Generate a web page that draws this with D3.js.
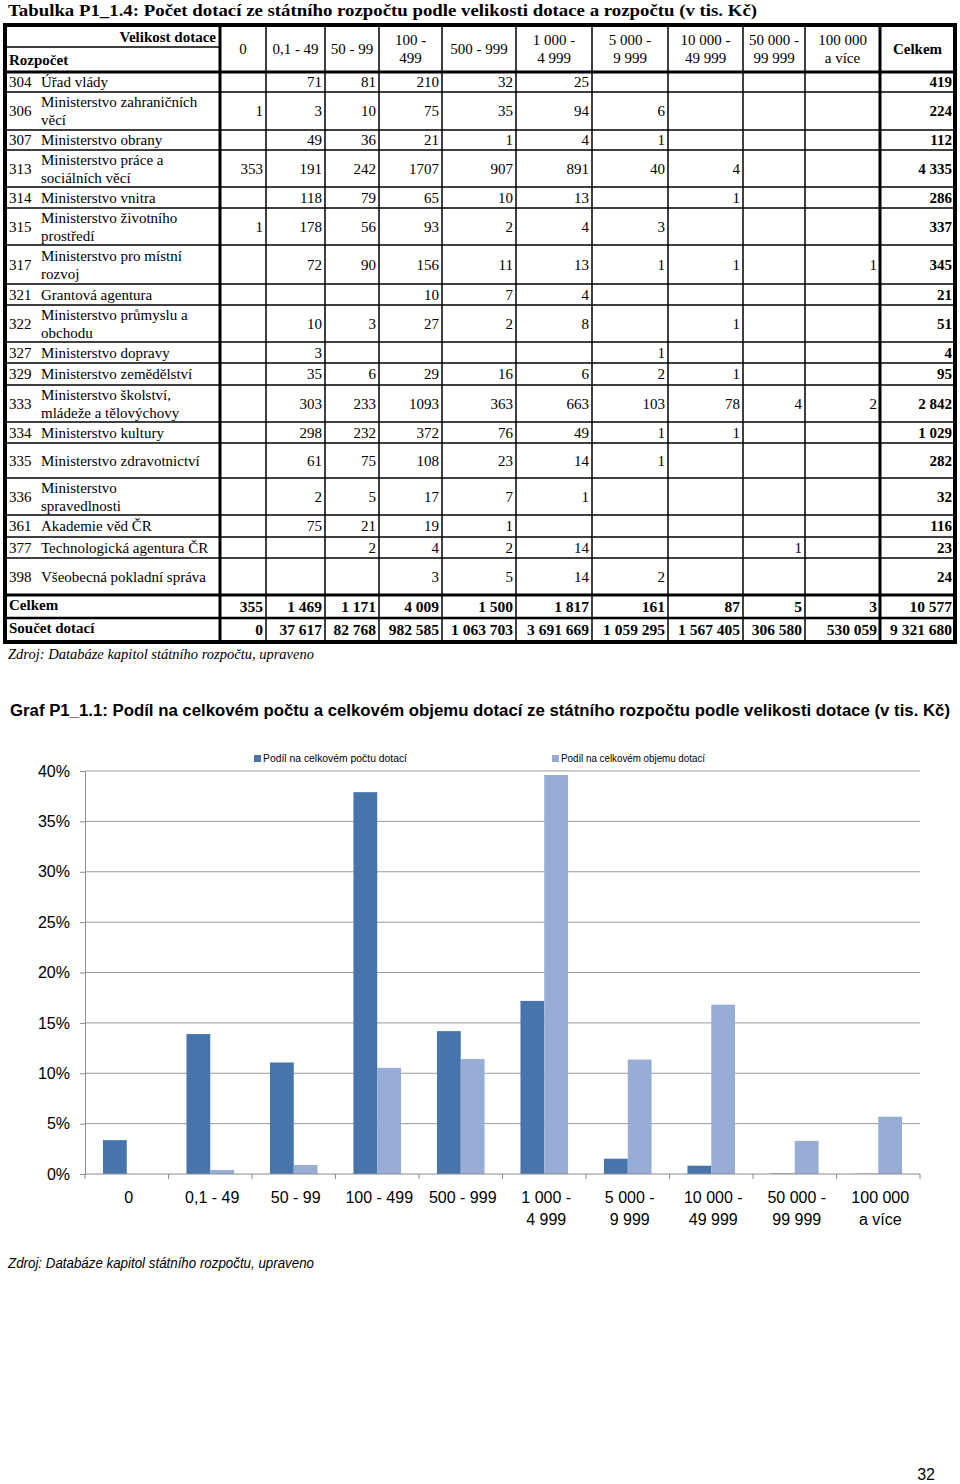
<!DOCTYPE html>
<html>
<head>
<meta charset="utf-8">
<script src="https://cdn.jsdelivr.net/npm/d3@7"></script>
<style>
  body { margin: 0; background: #fff; }
  svg { display: block; }
</style>
</head>
<body>
<div id="page"></div>
<script>
// ---- table data ----
var colHeads = [["0"], ["0,1 - 49"], ["50 - 99"], ["100 -", "499"], ["500 - 999"], ["1 000 -", "4 999"],
                ["5 000 -", "9 999"], ["10 000 -", "49 999"], ["50 000 -", "99 999"], ["100 000", "a více"]];

var rowCodes = ["304", "306", "307", "313", "314", "315", "317", "321", "322", "327", "329",
                "333", "334", "335", "336", "361", "377", "398"];

var rowNames = [["Úřad vlády"], ["Ministerstvo zahraničních", "věcí"], ["Ministerstvo obrany"],
                ["Ministerstvo práce a", "sociálních věcí"], ["Ministerstvo vnitra"],
                ["Ministerstvo životního", "prostředí"], ["Ministerstvo pro místní", "rozvoj"],
                ["Grantová agentura"], ["Ministerstvo průmyslu a", "obchodu"], ["Ministerstvo dopravy"],
                ["Ministerstvo zemědělství"], ["Ministerstvo školství,", "mládeže a tělovýchovy"],
                ["Ministerstvo kultury"], ["Ministerstvo zdravotnictví"], ["Ministerstvo", "spravedlnosti"],
                ["Akademie věd ČR"], ["Technologická agentura ČR"], ["Všeobecná pokladní správa"]];

var rowValues = [
  [null, 71, 81, 210, 32, 25, null, null, null, null],
  [1, 3, 10, 75, 35, 94, 6, null, null, null],
  [null, 49, 36, 21, 1, 4, 1, null, null, null],
  [353, 191, 242, 1707, 907, 891, 40, 4, null, null],
  [null, 118, 79, 65, 10, 13, null, 1, null, null],
  [1, 178, 56, 93, 2, 4, 3, null, null, null],
  [null, 72, 90, 156, 11, 13, 1, 1, null, 1],
  [null, null, null, 10, 7, 4, null, null, null, null],
  [null, 10, 3, 27, 2, 8, null, 1, null, null],
  [null, 3, null, null, null, null, 1, null, null, null],
  [null, 35, 6, 29, 16, 6, 2, 1, null, null],
  [null, 303, 233, 1093, 363, 663, 103, 78, 4, 2],
  [null, 298, 232, 372, 76, 49, 1, 1, null, null],
  [null, 61, 75, 108, 23, 14, 1, null, null, null],
  [null, 2, 5, 17, 7, 1, null, null, null, null],
  [null, 75, 21, 19, 1, null, null, null, null, null],
  [null, null, 2, 4, 2, 14, null, null, 1, null],
  [null, null, null, 3, 5, 14, 2, null, null, null]
];

var rowTotals = [419, 224, 112, 4335, 286, 337, 345, 21, 51, 4, 95, 2842, 1029, 282, 32, 116, 23, 24];

var countTotals = [355, 1469, 1171, 4009, 1500, 1817, 161, 87, 5, 3];
var countAll = 10577;
var sumTotals = [0, 37617, 82768, 982585, 1063703, 3691669, 1059295, 1567405, 306580, 530059];
var sumAll = 9321680;

// ---- chart data (in %) ----
var categories = [["0"], ["0,1 - 49"], ["50 - 99"], ["100 - 499"], ["500 - 999"], ["1 000 -", "4 999"],
                  ["5 000 -", "9 999"], ["10 000 -", "49 999"], ["50 000 -", "99 999"], ["100 000", "a více"]];
var seriesNames = ["Podíl na celkovém počtu dotací", "Podíl na celkovém objemu dotací"];
var shareCount = [3.36, 13.89, 11.07, 37.90, 14.18, 17.18, 1.52, 0.82, 0.05, 0.03];
var shareVolume = [0, 0.40, 0.89, 10.54, 11.41, 39.60, 11.36, 16.81, 3.29, 5.69];
var yTicks = [0, 5, 10, 15, 20, 25, 30, 35, 40];

var colors = ["#4674ab", "#98add5"];

var svg = d3.select("#page").append("svg")
    .attr("width", 960)
    .attr("height", 1484);

svg.append("rect").attr("width", 960).attr("height", 1484).attr("fill", "#fff");

var serif = "'Liberation Serif', 'DejaVu Serif', serif";
var sans = "'Liberation Sans', Arial, sans-serif";
var fs = "15px ";

var loc = d3.formatLocale({decimal: ",", thousands: "\u00a0", grouping: [3], currency: ["", ""]});
var fmtSpace = loc.format(",d");

// ---- table title ----
svg.append("text")
    .attr("x", 8).attr("y", 16)
    .attr("textLength", 749).attr("lengthAdjust", "spacingAndGlyphs")
    .style("font", "bold 17px " + serif)
    .text("Tabulka P1_1.4: Počet dotací ze státního rozpočtu podle velikosti dotace a rozpočtu (v tis. Kč)");

// ---- table layout ----
var colX = [5, 220, 266, 325, 379, 442, 516, 592, 668, 743, 805, 880, 955];
var rowHeights = [20, 38, 20, 37, 21, 37, 39, 21, 37, 21, 22, 37, 21, 35, 37, 22, 21, 37];
var tableTop = 25, headBottom = 72;

var rowY = [headBottom];
rowHeights.forEach(function(h, i) { rowY.push(rowY[i] + h); });
var celkemTop = rowY[rowY.length - 1];
var soucetTop = celkemTop + 23;
var tableBottom = soucetTop + 24;

var tbl = svg.append("g").attr("class", "table");

// header
tbl.append("text")
    .attr("x", 216).attr("y", 42).attr("text-anchor", "end")
    .style("font", "bold " + fs + serif)
    .text("Velikost dotace");
tbl.append("text")
    .attr("x", 9).attr("y", 65)
    .style("font", "bold " + fs + serif)
    .text("Rozpočet");

colHeads.forEach(function(lines, i) {
    var cx = (colX[i + 1] + colX[i + 2]) / 2;
    var cy = (tableTop + headBottom) / 2;
    lines.forEach(function(l, j) {
        tbl.append("text")
            .attr("x", cx)
            .attr("y", cy + 5 + (lines.length == 2 ? (j == 0 ? -9 : 9) : 0))
            .attr("text-anchor", "middle")
            .style("font", fs + serif)
            .text(l);
    });
});
tbl.append("text")
    .attr("x", (colX[11] + colX[12]) / 2).attr("y", (tableTop + headBottom) / 2 + 5)
    .attr("text-anchor", "middle")
    .style("font", "bold " + fs + serif)
    .text("Celkem");

// body rows
rowCodes.forEach(function(code, r) {
    var cy = (rowY[r] + rowY[r + 1]) / 2;
    tbl.append("text")
        .attr("x", 9).attr("y", cy + 5)
        .style("font", fs + serif)
        .text(code);
    var names = rowNames[r];
    names.forEach(function(n, j) {
        tbl.append("text")
            .attr("x", 41)
            .attr("y", cy + 5 + (names.length == 2 ? (j == 0 ? -9 : 9) : 0))
            .style("font", fs + serif)
            .text(n);
    });
    rowValues[r].forEach(function(v, c) {
        if (v == null) return;
        tbl.append("text")
            .attr("x", colX[c + 2] - 3).attr("y", cy + 5)
            .attr("text-anchor", "end")
            .style("font", fs + serif)
            .text(v);
    });
    tbl.append("text")
        .attr("x", colX[12] - 3).attr("y", cy + 5)
        .attr("text-anchor", "end")
        .style("font", "bold " + fs + serif)
        .text(fmtSpace(rowTotals[r]));
});

// total rows
function totalRow(label, vals, all, y0, h) {
    var cy = y0 + h / 2;
    tbl.append("text")
        .attr("x", 9).attr("y", cy + 3)
        .style("font", "bold " + fs + serif)
        .text(label);
    vals.concat([all]).forEach(function(v, c) {
        tbl.append("text")
            .attr("x", colX[c + 2] - 3).attr("y", cy + 5)
            .attr("text-anchor", "end")
            .style("font", "bold 15.5px " + serif)
            .text(fmtSpace(v));
    });
}
totalRow("Celkem", countTotals, countAll, celkemTop, 23);
totalRow("Součet dotací", sumTotals, sumAll, soucetTop, 24);

// grid lines
var thin = 1.5, thick = 3;
rowY.forEach(function(y, i) {
    tbl.append("line")
        .attr("x1", colX[0]).attr("x2", colX[12])
        .attr("y1", y).attr("y2", y)
        .attr("stroke", "#000")
        .attr("stroke-width", (i == 0 || i == rowY.length - 1) ? thick : thin);
});
tbl.append("line").attr("x1", colX[0]).attr("x2", colX[12]).attr("y1", soucetTop).attr("y2", soucetTop)
    .attr("stroke", "#000").attr("stroke-width", 2.5);
tbl.append("line").attr("x1", colX[0]).attr("x2", colX[1]).attr("y1", 47).attr("y2", 47)
    .attr("stroke", "#000").attr("stroke-width", thin);
colX.forEach(function(x, i) {
    if (i == 0 || i == 12) return;
    tbl.append("line")
        .attr("x1", x).attr("x2", x)
        .attr("y1", tableTop).attr("y2", tableBottom)
        .attr("stroke", "#000")
        .attr("stroke-width", (i == 1 || i == 11) ? thick : thin);
});
tbl.append("rect")
    .attr("x", colX[0]).attr("y", tableTop)
    .attr("width", colX[12] - colX[0]).attr("height", tableBottom - tableTop)
    .attr("fill", "none").attr("stroke", "#000").attr("stroke-width", 4);

svg.append("text")
    .attr("x", 8).attr("y", 659)
    .attr("textLength", 306).attr("lengthAdjust", "spacingAndGlyphs")
    .style("font", "italic " + fs + serif)
    .text("Zdroj: Databáze kapitol státního rozpočtu, upraveno");

// ---- chart ----
svg.append("text")
    .attr("x", 10).attr("y", 716)
    .attr("textLength", 940).attr("lengthAdjust", "spacingAndGlyphs")
    .style("font", "bold 16px " + sans)
    .text("Graf P1_1.1: Podíl na celkovém počtu a celkovém objemu dotací  ze státního rozpočtu podle velikosti dotace (v tis. Kč)");

var x0 = d3.scaleBand()
    .domain(d3.range(categories.length))
    .range([85, 920]);
var x1 = d3.scaleBand()
    .domain([0, 1])
    .range([x0.bandwidth() * 0.215, x0.bandwidth() * 0.785]);
var y = d3.scaleLinear()
    .domain([0, 40])
    .range([1174, 771]);

var chart = svg.append("g").attr("class", "chart");

// gridlines
chart.selectAll(".grid")
    .data(yTicks.slice(1))
    .enter().append("line")
    .attr("class", "grid")
    .attr("x1", 85).attr("x2", 920)
    .attr("y1", function(d) { return y(d); })
    .attr("y2", function(d) { return y(d); })
    .attr("stroke", "#9a9a9a").attr("stroke-width", 1);

// y axis
var yAxis = chart.append("g")
    .attr("transform", "translate(85,0)")
    .call(d3.axisLeft(y).tickValues(yTicks).tickSize(5).tickPadding(10)
        .tickFormat(function(d) { return d + "%"; }));
yAxis.select(".domain").attr("stroke", "#8c8c8c");
yAxis.selectAll(".tick line").attr("stroke", "#8c8c8c");
yAxis.selectAll("text").style("font", "16px " + sans).attr("fill", "#000");

// bars
var series = [shareCount, shareVolume];
series.forEach(function(vals, s) {
    chart.selectAll(".bar" + s)
        .data(vals)
        .enter().append("rect")
        .attr("class", "bar" + s)
        .attr("x", function(d, i) { return x0(i) + x1(s); })
        .attr("width", x1.bandwidth())
        .attr("y", function(d) { return y(d); })
        .attr("height", function(d) { return y(0) - y(d); })
        .attr("fill", colors[s]);
});

// x axis
chart.append("line")
    .attr("x1", 85).attr("x2", 920)
    .attr("y1", y(0)).attr("y2", y(0))
    .attr("stroke", "#8c8c8c").attr("stroke-width", 1.2);
chart.selectAll(".xtick")
    .data(d3.range(categories.length + 1))
    .enter().append("line")
    .attr("x1", function(d) { return 85 + d * x0.bandwidth(); })
    .attr("x2", function(d) { return 85 + d * x0.bandwidth(); })
    .attr("y1", y(0)).attr("y2", y(0) + 5)
    .attr("stroke", "#8c8c8c");

categories.forEach(function(lines, i) {
    lines.forEach(function(l, j) {
        chart.append("text")
            .attr("x", x0(i) + x0.bandwidth() / 2 + 2)
            .attr("y", 1203 + j * 22)
            .attr("text-anchor", "middle")
            .style("font", "16px " + sans)
            .text(l);
    });
});

// legend
var legendX = [254, 552];
seriesNames.forEach(function(n, s) {
    chart.append("rect")
        .attr("x", legendX[s]).attr("y", 755)
        .attr("width", 7).attr("height", 7)
        .attr("fill", colors[s]);
    chart.append("text")
        .attr("x", legendX[s] + 9).attr("y", 762)
        .attr("textLength", 144).attr("lengthAdjust", "spacingAndGlyphs")
        .style("font", "11px " + sans)
        .text(n);
});

svg.append("text")
    .attr("x", 8).attr("y", 1268)
    .attr("textLength", 306).attr("lengthAdjust", "spacingAndGlyphs")
    .style("font", "italic 14px " + sans)
    .text("Zdroj: Databáze kapitol státního rozpočtu, upraveno");

svg.append("text")
    .attr("x", 935).attr("y", 1480)
    .attr("text-anchor", "end")
    .style("font", "16px " + sans)
    .text("32");
</script>
</body>
</html>
